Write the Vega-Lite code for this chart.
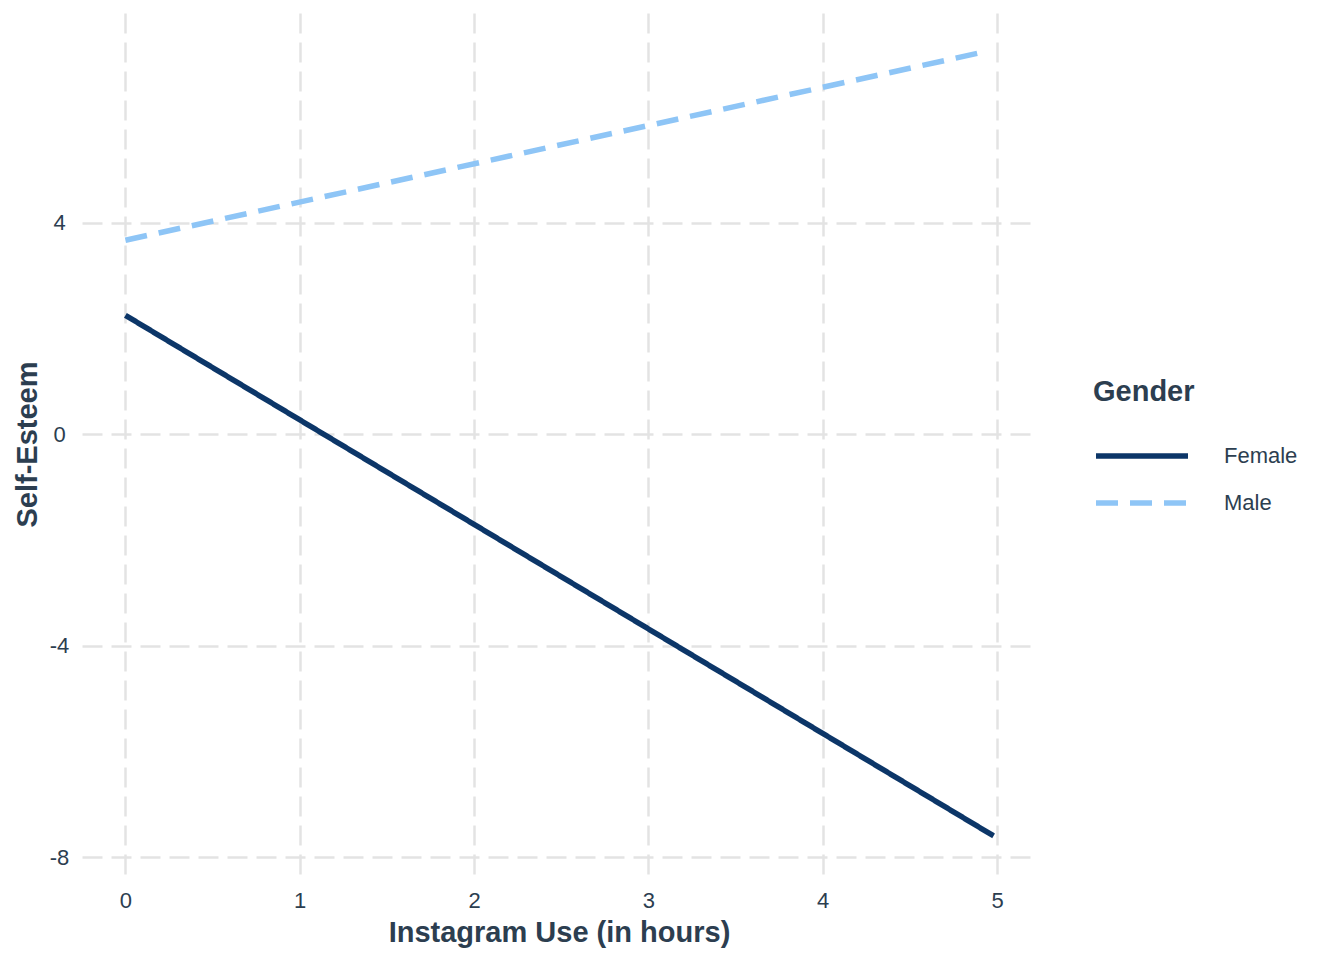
{
  "$schema": "https://vega.github.io/schema/vega-lite/v6.json",
  "description": "Self-esteem vs Instagram use, fitted lines by gender.",
  "autosize": "none",
  "padding": {"left": 82, "top": 13, "right": 307, "bottom": 85},
  "width": 955,
  "height": 862,
  "background": "white",
  "config": {
    "view": {"stroke": null},
    "font": "Liberation Sans",
    "axis": {
      "labelFont": "Liberation Sans",
      "titleFont": "Liberation Sans",
      "labelColor": "#2c3e50",
      "titleColor": "#2c3e50",
      "labelFontSize": 22,
      "titleFontSize": 29,
      "titleFontWeight": "bold",
      "ticks": false,
      "tickSize": 0,
      "domain": false,
      "grid": true,
      "gridColor": "#e3e3e3",
      "gridWidth": 2.5,
      "gridDash": [20, 9]
    }
  },
  "data": {
    "values": [
      {"gender": "Female", "hours": 0, "esteem": 2.25},
      {"gender": "Female", "hours": 4.98, "esteem": -7.6},
      {"gender": "Male", "hours": 0, "esteem": 3.67},
      {"gender": "Male", "hours": 4.92, "esteem": 7.23}
    ]
  },
  "mark": {"type": "line", "strokeWidth": 5.5},
  "encoding": {
    "x": {
      "field": "hours",
      "type": "quantitative",
      "scale": {"domain": [-0.249, 5.229], "nice": false, "zero": false},
      "axis": {
        "title": "Instagram Use (in hours)",
        "values": [0, 1, 2, 3, 4, 5],
        "labelExpr": "'' + datum.value",
        "labelPadding": 15,
        "titleX": 477,
        "titleY": 66,
        "titleBaseline": "alphabetic",
        "titleAlign": "center"
      }
    },
    "y": {
      "field": "esteem",
      "type": "quantitative",
      "scale": {"domain": [-8.34, 7.97], "nice": false, "zero": false},
      "axis": {
        "title": "Self-Esteem",
        "values": [-8, -4, 0, 4],
        "labelExpr": "'' + datum.value",
        "labelAlign": "center",
        "labelPadding": 23,
        "titleAngle": 270,
        "titleX": -46,
        "titleY": 431,
        "titleAlign": "center",
        "titleBaseline": "alphabetic"
      }
    },
    "color": {
      "field": "gender",
      "type": "nominal",
      "scale": {"domain": ["Female", "Male"], "range": ["#0c3668", "#8ec5f6"]},
      "legend": {
        "title": "Gender",
        "orient": "none",
        "legendX": 1011,
        "legendY": 365,
        "titleFont": "Liberation Sans",
        "titleFontSize": 29,
        "titleFontWeight": "bold",
        "titleColor": "#2c3e50",
        "titlePadding": 37,
        "labelFont": "Liberation Sans",
        "labelFontSize": 22,
        "labelColor": "#2c3e50",
        "labelOffset": 33,
        "symbolType": "stroke",
        "symbolSize": 8464,
        "symbolStrokeWidth": 5.5,
        "clipHeight": 24,
        "rowPadding": 23
      }
    },
    "strokeDash": {
      "field": "gender",
      "type": "nominal",
      "scale": {"domain": ["Female", "Male"], "range": [[1, 0], [22, 12]]},
      "legend": null
    }
  }
}
